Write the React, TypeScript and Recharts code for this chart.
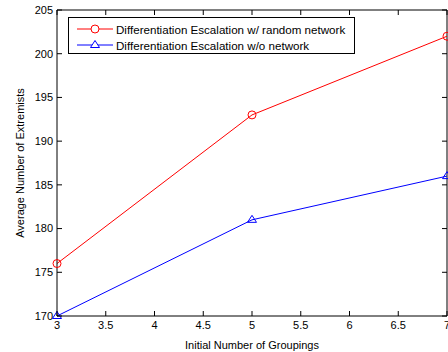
import { LineChart, Line, XAxis, YAxis, Legend, ReferenceLine } from 'recharts';

const groupings = [3, 5, 7];
const withRandomNetwork = [176, 193, 202];
const withoutNetwork = [170, 181, 186];
const xTicks = [3, 3.5, 4, 4.5, 5, 5.5, 6, 6.5, 7];
const yTicks = [170, 175, 180, 185, 190, 195, 200, 205];
const seriesNames = ['Differentiation Escalation w/ random network', 'Differentiation Escalation w/o network'];

const data = groupings.map((g, i) => ({ x: g, red: withRandomNetwork[i], blue: withoutNetwork[i] }));

const font = 'Arial, "Liberation Sans", sans-serif';

// plot box edges (fixed chart size)
const PLOT_LEFT = 57;
const PLOT_RIGHT = 447;
const PLOT_TOP = 10;
const PLOT_BOTTOM = 316;
const TICK_LEN = 5;

const XTick = (props: any) => {
  const { x, y, payload } = props;
  return (
    <g>
      <line x1={x} y1={PLOT_BOTTOM} x2={x} y2={PLOT_BOTTOM - TICK_LEN} stroke="#000" />
      <line x1={x} y1={PLOT_TOP} x2={x} y2={PLOT_TOP + TICK_LEN} stroke="#000" />
      <text x={x} y={y} dy="0.71em" textAnchor="middle" fontSize={11} fontFamily={font} fill="#000">
        {payload.value}
      </text>
    </g>
  );
};

const YTick = (props: any) => {
  const { x, y, payload } = props;
  return (
    <g>
      <line x1={PLOT_LEFT} y1={y} x2={PLOT_LEFT + TICK_LEN} y2={y} stroke="#000" />
      <line x1={PLOT_RIGHT} y1={y} x2={PLOT_RIGHT - TICK_LEN} y2={y} stroke="#000" />
      <text x={x} y={y} dy="0.355em" textAnchor="end" fontSize={11} fontFamily={font} fill="#000">
        {payload.value}
      </text>
    </g>
  );
};

const Triangle = (props: any) => {
  const { cx, cy, index } = props;
  if (cx == null || cy == null) return null;
  return (
    <polygon
      key={`tri-${index}`}
      points={`${cx},${cy - 4.5} ${cx - 4.5},${cy + 2.5} ${cx + 4.5},${cy + 2.5}`}
      fill="none"
      stroke="#0000ff"
      strokeWidth={1}
    />
  );
};

const LegendBox = () => (
  <div style={{ width: 285, height: 35, border: '1px solid #000', background: '#fff', fontFamily: font, fontSize: 11.6, color: '#000', boxSizing: 'content-box' }}>
    {seriesNames.map((name, i) => (
      <div key={name} style={{ display: 'flex', alignItems: 'center', height: 16, marginTop: i === 0 ? 3 : 0 }}>
        <svg width={39} height={16} style={{ marginLeft: 8, flex: 'none' }}>
          <line x1={0} y1={8} x2={36} y2={8} stroke={i === 0 ? '#ff0000' : '#0000ff'} strokeWidth={1} />
          {i === 0 ? (
            <circle cx={18} cy={8} r={4} fill="#fff" stroke="#ff0000" />
          ) : (
            <polygon points="18,3.5 13.5,10.5 22.5,10.5" fill="#fff" stroke="#0000ff" />
          )}
        </svg>
        <span style={{ whiteSpace: 'nowrap' }}>{name}</span>
      </div>
    ))}
  </div>
);

export default function App() {
  return (
    <div style={{ position: 'absolute', left: 0, top: 0, width: 448, height: 352, background: '#fff' }}>
      <LineChart width={448} height={352} data={data} margin={{ top: PLOT_TOP, right: 448 - PLOT_RIGHT, left: 0, bottom: 0 }}>
        <XAxis
          dataKey="x"
          type="number"
          domain={[3, 7]}
          ticks={xTicks}
          interval={0}
          height={352 - PLOT_BOTTOM}
          tickLine={false}
          tickSize={0}
          tickMargin={5}
          axisLine={{ stroke: '#000' }}
          tick={<XTick />}
          label={{ value: 'Initial Number of Groupings', position: 'insideBottom', offset: 3, style: { fontSize: 11, fill: '#000', fontFamily: font } }}
        />
        <YAxis
          type="number"
          domain={[170, 205]}
          ticks={yTicks}
          interval={0}
          width={PLOT_LEFT}
          tickLine={false}
          tickSize={0}
          tickMargin={4}
          axisLine={{ stroke: '#000' }}
          tick={<YTick />}
          label={{
            content: ({ viewBox }: any) => {
              const cy = viewBox.y + viewBox.height / 2;
              return (
                <text x={20} y={cy} transform={`rotate(-90 20 ${cy})`} textAnchor="middle" dominantBaseline="central" fontSize={11} fontFamily={font} fill="#000">
                  Average Number of Extremists
                </text>
              );
            },
          }}
        />
        <ReferenceLine y={205} stroke="#000" ifOverflow="visible" />
        <ReferenceLine x={7} stroke="#000" ifOverflow="visible" />
        <Legend
          layout="horizontal"
          align="center"
          verticalAlign="middle"
          wrapperStyle={{ left: 68, top: 17, width: 'auto' }}
          content={() => <LegendBox />}
        />
        <Line
          dataKey="red"
          stroke="#ff0000"
          strokeWidth={1}
          dot={{ r: 4, fill: 'none', stroke: '#ff0000', strokeWidth: 1 }}
          isAnimationActive={false}
        />
        <Line
          dataKey="blue"
          stroke="#0000ff"
          strokeWidth={1}
          dot={Triangle}
          isAnimationActive={false}
        />
      </LineChart>
    </div>
  );
}
